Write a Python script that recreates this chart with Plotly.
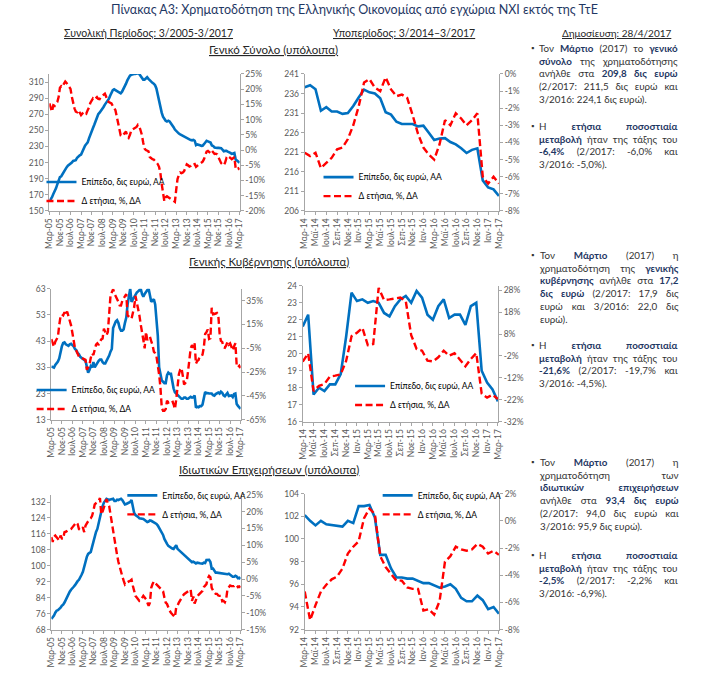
import json
import plotly.graph_objects as go

W, H = 709, 676
FONT = "Lato"
BLUE = "#0070C0"
RED = "#FF0000"
NAVY = "#1F3864"
AXIS = "#A6A6A6"
TICKC = "#595959"

# ---------------- tick labels ----------------
full_ticks = ["Μαρ-05", "Νοε-05", "Ιουλ-06", "Μαρ-07", "Νοε-07", "Ιουλ-08", "Μαρ-09",
              "Νοε-09", "Ιουλ-10", "Μαρ-11", "Νοε-11", "Ιουλ-12", "Μαρ-13", "Νοε-13",
              "Ιουλ-14", "Μαρ-15", "Νοε-15", "Ιουλ-16", "Μαρ-17"]
sub_ticks = ["Μαρ-14", "Μαϊ-14", "Ιουλ-14", "Σεπ-14", "Νοε-14", "Ιαν-15", "Μαρ-15",
             "Μαϊ-15", "Ιουλ-15", "Σεπ-15", "Νοε-15", "Ιαν-16", "Μαρ-16", "Μαϊ-16",
             "Ιουλ-16", "Σεπ-16", "Νοε-16", "Ιαν-17", "Μαρ-17"]

total_yoy_ticks = [-20, -15, -10, -5, 0, 5, 10, 15, 20, 25]
total_sub_yoy_ticks = [-8, -7, -6, -5, -4, -3, -2, -1, 0]
gov_yoy_ticks = [-65, -45, -25, -5, 15, 35]
gov_sub_yoy_ticks = [-32, -22, -12, -2, 8, 18, 28]
corp_yoy_ticks = [-15, -10, -5, 0, 5, 10, 15, 20, 25]
corp_sub_yoy_ticks = [-8, -6, -4, -2, 0, 2]

# ---------------- data: total (general total) ----------------
# Mar-05 .. Feb-14 (monthly)
total_level_pre = [162, 164, 167, 171, 174, 178, 183, 188, 192, 193,
                   196, 199, 201, 204, 206, 207, 208, 210, 212, 213,
                   213, 216, 218, 219, 220, 224, 228, 231, 233, 235,
                   240, 245, 250, 253, 257, 262, 266, 270, 272, 274,
                   276, 279, 282, 284, 286, 289, 293, 297, 300, 301,
                   300, 298, 297, 296, 296, 298, 301, 305, 308, 312,
                   315, 318, 319, 320, 320, 320, 321, 321, 320, 318,
                   316, 313, 313, 315, 316, 314, 312, 311, 309, 308,
                   306, 302, 294, 285, 277, 272, 267, 264, 262, 261,
                   262, 261, 259, 257, 254, 251, 249, 247, 246, 245,
                   244, 243, 242, 241, 241, 240, 239, 238]
# Mar-14 .. Mar-17
total_level_sub = [237.6, 238.1, 237.1, 231.6, 232.5, 231.4, 231.4, 230.8, 231.0, 232.8,
                   235.0, 237.0, 236.3, 236.0, 234.8, 231.2, 230.6, 228.8, 228.2, 228.2,
                   228.2, 227.6, 227.8, 226.0, 224.1, 224.5, 224.6, 223.6, 223.0, 222.0,
                   220.8, 221.6, 222.0, 213.8, 212.0, 211.5, 209.8]
total_yoy_pre = [15.3, 13.5, 12.6, 14.7, 14.5, 15.2, 15.8, 17.4, 20.5, 21.0,
                 20.7, 21.8, 22.5, 22.0, 21.2, 20.5, 20.1, 17.5, 15.3, 13.7,
                 12.6, 12.4, 13.1, 12.0, 11.5, 12.0, 12.6, 12.4, 12.0, 13.1,
                 14.0, 15.5, 16.4, 17.0, 16.6, 16.9, 17.4, 16.8, 16.7, 17.5,
                 17.8, 18.0, 18.5, 17.5, 16.2, 15.8, 15.5, 15.3, 14.5, 13.8,
                 13.1, 11.0, 8.5, 6.5, 4.8, 4.5, 5.0, 5.8, 6.1, 4.5,
                 4.0, 5.0, 6.5, 6.8, 7.0, 7.2, 7.6, 8.3, 7.9, 6.5,
                 5.0, 2.5, 0.5, 0.0, -0.2, -0.4, -2.3, -2.8, -3.0, -3.1,
                 -3.5, -4.0, -4.6, -5.5, -7.5, -11.1, -14.5, -16.8, -15.5, -15.2,
                 -15.5, -15.8, -16.0, -16.2, -16.5, -17.0, -13.0, -9.5, -8.2, -7.4,
                 -7.6, -7.4, -6.9, -5.5, -4.7, -5.0, -5.4, -5.2]
total_yoy_sub = [-4.6, -4.8, -4.6, -5.5, -5.2, -4.9, -4.4, -4.3, -3.8, -3.0,
                 -1.9, -0.5, -0.3, -0.8, -1.0, -0.2, -0.9, -1.3, -1.2, -1.4,
                 -2.4, -3.5, -4.3, -4.7, -5.0, -4.1, -2.7, -3.0, -2.3, -2.6,
                 -3.0, -2.7, -2.3, -6.0, -6.4, -6.0, -6.4]

# ---------------- data: general government ----------------
gov_level_pre = [33.3, 33.0, 32.9, 33.9, 34.5, 35.2, 36.4, 38.9, 41.0, 42.3,
                 42.5, 41.8, 41.5, 41.2, 41.8, 42.0, 41.5, 41.0, 40.0, 39.5,
                 38.5, 38.0, 37.0, 36.5, 36.0, 35.8, 35.5, 33.0, 31.0, 32.0,
                 33.5, 33.0, 35.0, 33.0, 34.0, 35.0, 35.5, 36.0, 36.0, 35.0,
                 34.5, 34.5, 35.5, 36.0, 37.5, 39.0, 40.0, 48.0, 49.5, 50.5,
                 51.0, 50.0, 48.0, 47.0, 47.0, 47.5, 50.0, 52.0, 57.0, 61.0,
                 63.0, 58.0, 59.0, 60.0, 60.5, 61.5, 62.0, 62.5, 63.0, 61.0,
                 60.0, 61.0, 62.0, 62.5, 63.0, 60.5, 58.0, 58.5, 59.0, 57.0,
                 52.0, 45.0, 33.0, 30.0, 28.0, 27.5, 27.0, 27.0, 30.0, 31.0,
                 30.5, 30.5, 27.0, 25.0, 23.5, 23.0, 22.5, 22.0, 21.5, 21.0,
                 21.0, 21.5, 21.5, 21.0, 21.0, 21.5, 21.8, 21.5]
gov_level_sub = [21.6, 22.3, 17.6, 18.0, 17.8, 18.2, 18.2, 18.8, 21.0, 23.6,
                 23.1, 23.2, 23.0, 23.1, 23.0, 22.4, 22.2, 22.8, 23.2, 23.4,
                 23.0, 23.7, 23.3, 22.3, 22.0, 22.8, 23.2, 22.1, 22.3, 22.3,
                 21.7, 22.8, 23.0, 19.0, 18.3, 17.9, 17.2]
gov_yoy_pre = [2.7, -0.9, -3.7, 0.5, 2.5, 4.6, 14.3, 22.0, 23.5, 22.6,
               25.3, 22.6, 25.9, 22.5, 18.0, 14.3, 8.0, -1.0, -5.0, -7.0,
               -10.0, -12.0, -12.5, -13.0, -13.5, -14.0, -14.7, -23.0, -21.0, -18.9,
               -13.0, -9.2, -10.6, -6.0, -2.0, -0.9, -2.3, 0.5, 2.5, 3.2,
               11.5, 8.8, 6.0, 8.8, 25.0, 39.0, 42.0, 44.7, 41.0, 39.0,
               36.4, 34.0, 31.0, 30.9, 35.0, 37.0, 39.0, 40.5, 22.6, 21.0,
               20.5, 19.8, 25.0, 29.5, 39.0, 34.0, 28.0, 22.6, 15.0, 6.0,
               2.0, -5.0, 8.8, 1.9, 3.5, 4.6, 1.0, -2.3, -7.8, -9.2,
               -12.0, -18.9, -27.0, -38.0, -54.8, -57.5, -57.5, -56.0, -49.0, -50.6,
               -50.0, -49.5, -49.0, -52.0, -56.0, -48.0, -38.0, -27.0, -23.0, -21.6,
               -28.0, -35.4, -34.0, -32.7, -24.4, -15.0, -5.0, -2.3]
gov_yoy_sub = [-4.6, -0.8, -18.0, -15.6, -14.8, -11.4, -11.0, -10.4, -4.3, 7.0,
               8.6, 10.8, 2.9, 3.4, 29.0, 23.5, 23.8, 24.1, 24.6, 23.0,
               7.5, 1.2, 0.4, -4.1, -4.5, -2.6, 0.4, -1.9, -0.8, -3.7,
               -6.7, -3.4, -0.7, -19.2, -21.0, -19.7, -21.6]

# ---------------- data: private corporations ----------------
corp_level_pre = [73.4, 74.0, 75.0, 76.5, 77.5, 77.8, 78.3, 79.0, 80.0, 80.5,
                  81.6, 83.0, 84.9, 86.0, 87.0, 88.0, 89.0, 89.5, 90.3, 91.5,
                  92.3, 93.0, 94.0, 95.5, 97.0, 100.0, 103.0, 104.5, 106.0, 106.5,
                  107.0, 109.5, 112.5, 115.0, 117.0, 118.5, 121.5, 124.5, 127.0, 130.0,
                  131.7, 133.0, 133.6, 133.3, 133.0, 133.3, 133.5, 133.6, 132.5, 132.5,
                  133.2, 133.0, 133.3, 133.6, 133.0, 131.5, 130.8, 131.0, 131.3, 131.5,
                  132.0, 133.0, 129.0, 126.5, 125.5, 125.1, 124.5, 123.8, 123.8, 123.7,
                  123.5, 123.0, 122.5, 122.0, 122.2, 122.8, 122.6, 122.2, 122.0, 121.8,
                  121.0, 120.2, 119.0, 118.0, 116.9, 115.5, 113.5, 112.0, 111.0, 110.0,
                  109.5, 109.0, 108.7, 108.5, 109.5, 110.3, 108.5, 107.9, 107.0, 106.5,
                  106.2, 105.5, 104.8, 104.3, 103.8, 103.0, 102.3, 101.8]
corp_level_sub = [102.1, 101.6, 101.2, 101.6, 101.3, 101.25, 101.2, 101.1, 101.6, 101.4,
                  102.9, 102.9, 103.0, 101.9, 98.6, 98.6, 97.4, 96.6, 96.6, 96.5,
                  96.5, 96.3, 96.1, 96.1, 95.9, 95.7, 95.8, 96.0, 95.6, 94.8,
                  94.5, 94.5, 95.0, 94.6, 93.8, 94.0, 93.4]
corp_yoy_pre = [12.4, 11.0, 12.5, 12.9, 12.4, 12.0, 11.4, 12.9, 12.0, 11.9,
                13.9, 14.0, 14.3, 14.5, 14.6, 14.8, 15.3, 15.8, 16.5, 16.8,
                16.3, 14.8, 14.5, 15.0, 15.3, 13.9, 15.8, 16.5, 17.2, 17.7,
                18.0, 18.7, 20.2, 22.1, 22.5, 22.8, 23.1, 24.0, 19.2, 20.0,
                21.1, 22.6, 23.7, 22.5, 21.6, 19.2, 16.5, 13.9, 11.4, 9.0,
                7.1, 5.1, 3.5, 1.5, 0.8, -0.5, -1.6, -1.2, -0.8, -0.7,
                -0.5, -0.2, -2.0, -3.6, -5.0, -5.5, -6.0, -6.5, -6.3, -5.5,
                -5.0, -5.5, -6.0, -7.0, -7.9, -7.0, -2.6, -1.5, -0.7, -1.2,
                -1.6, -1.8, -2.1, -2.8, -3.0, -3.6, -5.5, -7.0, -7.4, -8.5,
                -9.4, -10.0, -10.4, -10.8, -11.3, -8.4, -7.9, -7.0, -6.2, -5.5,
                -5.0, -4.5, -4.2, -3.8, -3.6, -3.3, -3.1, -6.5]
corp_yoy_sub = [-5.2, -7.3, -6.2, -5.2, -4.7, -4.3, -4.1, -3.5, -2.4, -1.9,
                -1.5, 0.2, 0.9, 0.5, -2.6, -3.4, -3.9, -4.4, -4.4, -4.9,
                -5.0, -5.0, -6.6, -6.5, -6.9, -5.9, -3.0, -2.6, -1.9, -2.1,
                -2.2, -2.1, -1.7, -1.9, -2.4, -2.2, -2.5]

LEVEL_NAME = "Επίπεδο, δις ευρώ, ΑΑ"
YOY_NAME = "Δ ετήσια, %, ΔΑ"


def fx(p):
    return p / W


def fy(p):
    return 1 - p / H


charts = [
    dict(box=(45, 238, 70, 209), level=total_level_pre + total_level_sub,
         yoy=total_yoy_pre + total_yoy_sub, ticks=full_ticks, step=8,
         lrange=[150, 320], ltick0=150, ldtick=20, rticks=total_yoy_ticks, rrange=[-20, 25],
         leg=(82, 181)),
    dict(box=(304, 501, 70, 209), level=total_level_sub, yoy=total_yoy_sub,
         ticks=sub_ticks, step=2,
         lrange=[206, 241], ltick0=206, ldtick=5, rticks=total_sub_yoy_ticks, rrange=[-8, 0],
         leg=(363, 176)),
    dict(box=(47, 239, 288, 421), level=gov_level_pre + gov_level_sub,
         yoy=gov_yoy_pre + gov_yoy_sub, ticks=full_ticks, step=8,
         lrange=[13, 63], ltick0=13, ldtick=10, rticks=gov_yoy_ticks, rrange=[-65, 45],
         leg=(72, 392)),
    dict(box=(302, 500, 285, 423), level=gov_level_sub, yoy=gov_yoy_sub,
         ticks=sub_ticks, step=2,
         lrange=[16, 24], ltick0=16, ldtick=1, rticks=gov_sub_yoy_ticks, rrange=[-32, 30],
         leg=(395, 388)),
    dict(box=(47, 239, 497, 634), level=corp_level_pre + corp_level_sub,
         yoy=corp_yoy_pre + corp_yoy_sub, ticks=full_ticks, step=8,
         lrange=[68, 135.7], ltick0=68, ldtick=8, rticks=corp_yoy_ticks, rrange=[-15, 25],
         leg=(164, 499)),
    dict(box=(304, 501, 496, 634), level=corp_level_sub, yoy=corp_yoy_sub,
         ticks=sub_ticks, step=2,
         lrange=[92, 104], ltick0=92, ldtick=2, rticks=corp_sub_yoy_ticks, rrange=[-8, 2],
         leg=(423, 499)),
]

fig = go.Figure()
layout = {}
tickfont = dict(family=FONT, size=8.5, color=TICKC)

for k, c in enumerate(charts, start=1):
    x0, x1, y0, y1 = c["box"]
    n = len(c["level"])
    xs = list(range(n))
    xa = "x" if k == 1 else f"x{k}"
    ya = "y" if k == 1 else f"y{2 * k - 1}"
    yb = f"y{2 * k}"
    lg = "legend" if k == 1 else f"legend{k}"
    fig.add_trace(go.Scatter(x=xs, y=c["level"], mode="lines", name=LEVEL_NAME,
                             line=dict(color=BLUE, width=2.6), xaxis=xa, yaxis=ya,
                             legend=lg, hoverinfo="skip"))
    fig.add_trace(go.Scatter(x=xs, y=c["yoy"], mode="lines", name=YOY_NAME,
                             line=dict(color=RED, width=2.4, dash="7px,3.5px"),
                             xaxis=xa, yaxis=yb, legend=lg, hoverinfo="skip"))
    xkey = "xaxis" if k == 1 else f"xaxis{k}"
    layout[xkey] = dict(domain=[fx(x0), fx(x1)], anchor=ya, range=[0, n - 1],
                        tickvals=xs[::c["step"]], ticktext=c["ticks"], tickangle=-90,
                        ticks="outside", ticklen=3, tickcolor=AXIS, showline=True,
                        linecolor=AXIS, linewidth=1, showgrid=False, zeroline=False,
                        tickfont=tickfont, fixedrange=True)
    ykey = "yaxis" if k == 1 else f"yaxis{2 * k - 1}"
    layout[ykey] = dict(domain=[fy(y1), fy(y0)], anchor=xa, range=c["lrange"],
                        tick0=c["ltick0"], dtick=c["ldtick"], ticks="outside", ticklen=3,
                        tickcolor=AXIS, showline=True, linecolor=AXIS, linewidth=1,
                        showgrid=False, zeroline=False, tickfont=tickfont, fixedrange=True)
    layout[f"yaxis{2 * k}"] = dict(overlaying=ya, side="right", anchor=xa,
                                   range=c["rrange"], tickvals=c["rticks"],
                                   ticktext=[f"{v}%" for v in c["rticks"]],
                                   ticks="outside", ticklen=3, tickcolor=AXIS,
                                   showline=True, linecolor=AXIS, linewidth=1,
                                   showgrid=False, zeroline=False, tickfont=tickfont,
                                   fixedrange=True)
    lx, lyc = c["leg"]
    layout[lg] = dict(x=fx(lx - 45), y=fy(lyc - 16), xanchor="left", yanchor="top",
                      bgcolor="rgba(0,0,0,0)", borderwidth=0,
                      font=dict(family=FONT, size=8.5, color="#000000"),
                      tracegroupgap=0, itemclick=False, itemdoubleclick=False)

fig.update_layout(**layout)

annotations = []


def text(x, y, s, size=10.5, color="#262626", xanchor="center", under=False, yanchor="middle"):
    f = dict(family=FONT, size=size, color=color)
    if under:
        f["lineposition"] = "under"
    annotations.append(dict(x=fx(x), y=fy(y), xref="paper", yref="paper", text=s,
                            showarrow=False, xanchor=xanchor, yanchor=yanchor, font=f,
                            align="left"))
    return len(annotations) - 1


text(355, 5, "Πίνακας Α3: Χρηματοδότηση της Ελληνικής Οικονομίας από εγχώρια ΝΧΙ εκτός της ΤτΕ",
     size=12.5, color=NAVY)
text(146, 28, "Συνολική Περίοδος: 3/2005-3/2017", under=True)
text(405, 28, "Υποπερίοδος: 3/2014–3/2017", under=True)
text(621, 28, "Δημοσίευση: 28/4/2017", under=True, size=10)
text(272, 45, "Γενικό Σύνολο (υπόλοιπα)", under=True, size=11.5)
text(268, 260, "Γενικής Κυβέρνησης (υπόλοιπα)", under=True, size=11.5)
text(268, 471, "Ιδιωτικών Επιχειρήσεων (υπόλοιπα)", under=True, size=11.5)


def B(s):
    return f"<b><span style='color:{NAVY}'>{s}</span></b>"


paragraphs = [
    (48, ["Τον " + B("Μάρτιο") + " (2017) το " + B("γενικό"),
          B("σύνολο") + " της χρηματοδότησης",
          "ανήλθε στα " + B("209,8 δις ευρώ"),
          "(2/2017: 211,5 δις ευρώ και",
          "3/2016: 224,1 δις ευρώ)."]),
    (127, ["Η " + B("ετήσια ποσοστιαία"),
           B("μεταβολή") + " ήταν της τάξης του",
           B("-6,4%") + " (2/2017: -6,0% και",
           "3/2016: -5,0%)."]),
    (258, ["Τον " + B("Μάρτιο") + " (2017) η",
           "χρηματοδότηση της " + B("γενικής"),
           B("κυβέρνησης") + " ανήλθε στα " + B("17,2"),
           B("δις ευρώ") + " (2/2017: 17,9 δις",
           "ευρώ και 3/2016: 22,0 δις",
           "ευρώ)."]),
    (349, ["Η " + B("ετήσια ποσοστιαία"),
           B("μεταβολή") + " ήταν της τάξης του",
           B("-21,6%") + " (2/2017: -19,7% και",
           "3/2016: -4,5%)."]),
    (468, ["Τον " + B("Μάρτιο") + " (2017) η",
           "χρηματοδότηση των",
           B("ιδιωτικών επιχειρήσεων"),
           "ανήλθε στα " + B("93,4 δις ευρώ"),
           "(2/2017: 94,0 δις ευρώ και",
           "3/2016: 95,9 δις ευρώ)."]),
    (562, ["Η " + B("ετήσια ποσοστιαία"),
           B("μεταβολή") + " ήταν της τάξης του",
           B("-2,5%") + " (2/2017: -2,2% και",
           "3/2016: -6,9%)."]),
]
LS = 12.75
PSIZE = 9.8
TEXT_LEFT = 539.5
TEXT_RIGHT = 678
para_idx = []
for y_first, lines in paragraphs:
    nl = len(lines)
    yc = y_first - 4 + (nl - 1) * LS / 2
    para_idx.append(text(TEXT_LEFT, yc, "<br>".join(lines), size=PSIZE, color="#333333",
                         xanchor="left"))
    text(535, y_first - 4, "▪", size=8, color="#333333")

fig.update_layout(annotations=annotations, width=W, height=H,
                  margin=dict(l=0, r=0, t=0, b=0), paper_bgcolor="white",
                  plot_bgcolor="white", showlegend=True,
                  font=dict(family=FONT))

# page margin reset + justified paragraph lines (as in the original document)
post = """
document.body.style.margin='0px';document.body.style.overflow='hidden';
var gd=document.getElementById('{plot_id}');
var idx=%s, target=%f;
idx.forEach(function(i){
  var g=gd.querySelector('g.annotation[data-index="'+i+'"]');
  if(!g) return;
  var lines=g.querySelectorAll('tspan.line');
  for(var j=0;j<lines.length-1;j++){
    var t=lines[j];
    var len=t.getComputedTextLength();
    var sp=(t.textContent.match(/ /g)||[]).length;
    if(sp>0 && target>len){t.setAttribute('word-spacing',((target-len)/sp)+'px');}
  }
});
""" % (json.dumps(para_idx), TEXT_RIGHT - TEXT_LEFT)

fig.write_html("out.html", config={"displayModeBar": False}, post_script=post)
